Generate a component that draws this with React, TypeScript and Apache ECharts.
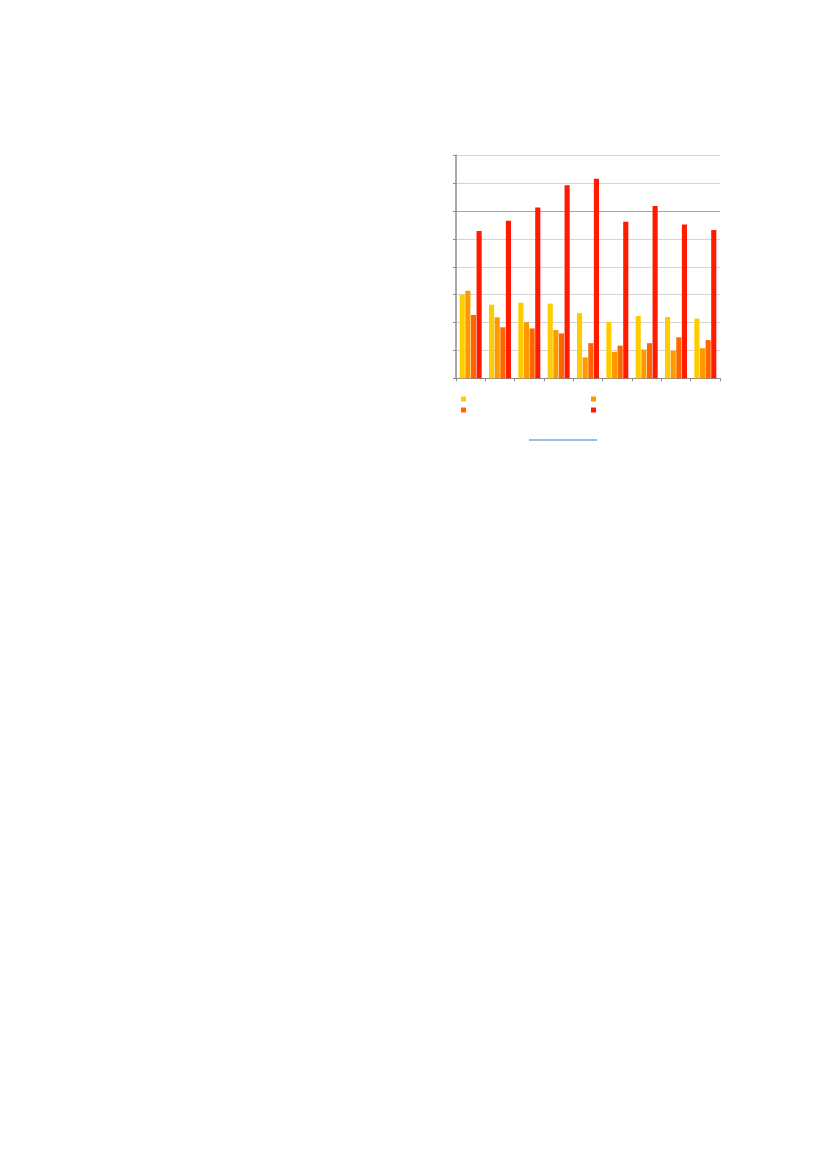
import React, { useEffect, useRef } from "react";
import * as echarts from "echarts";

const categories = ["1", "2", "3", "4", "5", "6", "7", "8", "9"];
const seriesNames = ["Series 1", "Series 2", "Series 3", "Series 4"];
const seriesColors = ["#ffcc00", "#ff9900", "#ff6600", "#ff1a00"];
const series1 = [3.0, 2.64, 2.71, 2.68, 2.34, 2.02, 2.24, 2.2, 2.14];
const series2 = [3.14, 2.19, 2.01, 1.73, 0.75, 0.95, 1.03, 0.99, 1.08];
const series3 = [2.27, 1.83, 1.79, 1.61, 1.26, 1.17, 1.26, 1.47, 1.37];
const series4 = [5.28, 5.65, 6.13, 6.93, 7.16, 5.62, 6.18, 5.52, 5.32];
const yMin = 0;
const yMax = 8;
const yInterval = 1;

export default function App() {
  const ref = useRef<HTMLDivElement>(null);
  useEffect(() => {
    if (!ref.current) return;
    const chart = echarts.init(ref.current, null, { renderer: "svg" });
    const allData = [series1, series2, series3, series4];
    const splitColors = Array.from({ length: 9 }, (_, i) => (i === 6 ? "#a6a6a6" : "#d4d4d4"));
    chart.setOption({
      animation: false,
      grid: { left: 456, top: 155.3, width: 264, height: 223, containLabel: false },
      legend: [
        {
          data: [seriesNames[0], seriesNames[1]],
          left: 461,
          top: 396.5,
          padding: 0,
          itemWidth: 5,
          itemHeight: 5,
          itemGap: 125,
          icon: "rect",
          formatter: () => "",
          textStyle: { fontSize: 5, padding: 0 },
          selectedMode: false,
        },
        {
          data: [seriesNames[2], seriesNames[3]],
          left: 461,
          top: 407.5,
          padding: 0,
          itemWidth: 5,
          itemHeight: 5,
          itemGap: 125,
          icon: "rect",
          formatter: () => "",
          textStyle: { fontSize: 5, padding: 0 },
          selectedMode: false,
        },
      ],
      xAxis: {
        type: "category",
        data: categories,
        boundaryGap: true,
        axisLine: { show: true, lineStyle: { color: "#8c8c8c", width: 1 } },
        axisTick: { show: true, length: 3, lineStyle: { color: "#8c8c8c" } },
        axisLabel: { show: false },
        splitLine: { show: false },
      },
      yAxis: {
        type: "value",
        min: yMin,
        max: yMax,
        interval: yInterval,
        axisLine: { show: true, lineStyle: { color: "#8c8c8c", width: 1.5 } },
        axisTick: { show: true, length: 3, lineStyle: { color: "#8c8c8c" } },
        axisLabel: { show: false },
        splitLine: { show: true, lineStyle: { color: splitColors, width: 1 } },
      },
      series: allData.map((d, i) => ({
        name: seriesNames[i],
        type: "bar",
        data: d,
        barGap: "10%",
        barCategoryGap: "25%",
        itemStyle: { color: seriesColors[i] },
      })),
      graphic: [
        {
          type: "line",
          shape: { x1: 529, y1: 440, x2: 597, y2: 440 },
          style: { stroke: "#6fa8dc", lineWidth: 1.5 },
        },
      ],
    });
    return () => chart.dispose();
  }, []);
  return (
    <div
      ref={ref}
      style={{ position: "absolute", left: 0, top: 0, width: 827, height: 1169 }}
    />
  );
}
